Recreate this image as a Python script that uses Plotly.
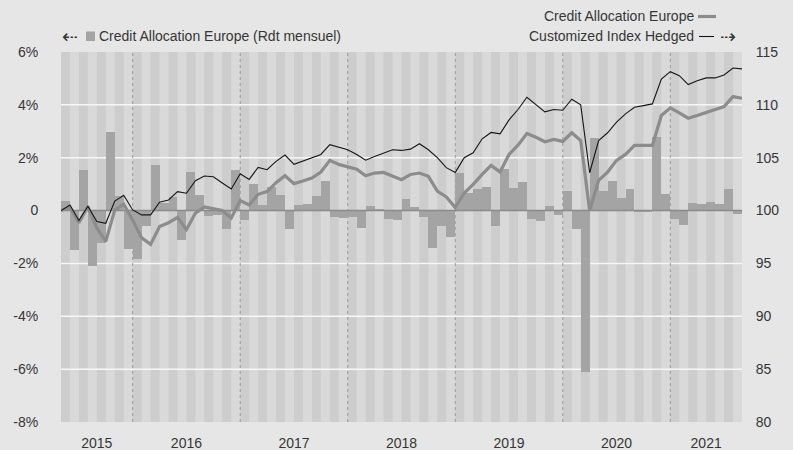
import plotly.graph_objects as go
import pandas as pd

# ---------------- data ----------------
months = [d.strftime("%Y-%m") for d in pd.date_range("2015-05-01", "2021-08-01", freq="MS")]

monthly_returns = [
    0.38, -1.51, 1.55, -2.10, -1.23, 2.98, 0.55, -1.45, -1.82, -0.57,
    1.74, 0.29, 0.53, -1.10, 1.47, 0.60, -0.21, -0.15, -0.70, 1.55,
    -0.36, 0.99, 0.20, 0.89, 0.58, -0.68, 0.20, 0.24, 0.54, 1.12,
    -0.24, -0.28, -0.24, -0.65, 0.16, 0.05, -0.30, -0.34, 0.45,
    0.13, -0.24, -1.41, -0.58, -0.99, 1.41, 0.67, 0.81, 0.88, -0.58,
    1.56, 0.84, 1.07, -0.33, -0.39, 0.16, -0.15, 0.73, -0.68,
    -6.10, 2.74, 0.73, 1.11, 0.49, 0.81, -0.04, -0.03, 2.78, 0.62,
    -0.33, -0.55, 0.28, 0.24, 0.31, 0.24, 0.81, -0.13,
]

# index values at month boundaries (start value + end of each month)
fund_index = [
    100.0, 100.3, 98.85, 100.4, 98.35, 97.1, 100.05, 100.6, 99.1, 97.42,
    96.8, 98.5, 98.85, 99.35, 98.2, 99.75, 100.35, 100.15, 100.0, 99.3,
    100.95, 100.53, 101.54, 101.8, 102.64, 103.3, 102.55, 102.8, 103.08, 103.64,
    104.75, 104.37, 104.11, 103.92, 103.3, 103.55, 103.61, 103.3, 102.92,
    103.42, 103.55, 103.24, 101.85, 101.28, 100.28, 101.66, 102.48, 103.42, 104.27,
    103.64, 105.31, 106.19, 107.29, 106.94, 106.51, 106.73, 106.54, 107.36,
    106.63, 100.0, 102.86, 103.64, 104.75, 105.31, 106.16, 106.16, 106.16, 108.99,
    109.72, 109.25, 108.74, 108.99, 109.25, 109.56, 109.84, 110.78, 110.62,
]

bench_index = [
    100.0, 100.53, 99.06, 100.41, 98.96, 98.8, 100.9, 101.45, 100.06, 99.59,
    99.59, 100.79, 101.0, 101.79, 101.64, 102.83, 103.27, 103.2, 102.61, 102.04,
    103.49, 102.95, 104.08, 103.87, 104.65, 105.25, 104.37, 104.68, 105.06, 105.31,
    106.23, 106.0, 105.75, 105.31, 104.77, 105.12, 105.43, 105.75, 105.69,
    105.81, 106.32, 105.75, 105.0, 104.06, 103.61, 105.0, 105.47, 106.79, 107.39,
    107.26, 108.58, 109.56, 110.72, 110.03, 109.34, 109.56, 109.49, 110.53,
    110.0, 103.58, 106.63, 107.36, 108.36, 109.15, 109.77, 109.93, 110.09, 112.45,
    113.14, 112.76, 111.92, 112.29, 112.55, 112.55, 112.83, 113.49, 113.4,
]

name_bars = "Credit Allocation Europe (Rdt mensuel)"
name_fund = "Credit Allocation Europe"
name_bench = "Customized Index Hedged"

left_ticks = [-8, -6, -4, -2, 0, 2, 4, 6]
left_tick_text = ["-8%", "-6%", "-4%", "-2%", "0", "2%", "4%", "6%"]
right_ticks = [80, 85, 90, 95, 100, 105, 110, 115]

# ---------------- styling ----------------
BG = "#e6e6e6"
STRIPE_LIGHT = "#d9d9d9"
STRIPE_DARK = "#cdcdcd"
BAR = "#a4a4a4"
FUND = "#8c8c8c"
BENCH = "#161616"
TXT = "#363636"
FONT = "Liberation Sans, Arial, sans-serif"

n = len(months)
bar_x = [i + 0.5 for i in range(n)]
line_x = list(range(n + 1))

years = [m[:4] for m in months]
year_labels = sorted(set(years))
year_centers = []
for y in year_labels:
    idx = [i for i, v in enumerate(years) if v == y]
    year_centers.append((idx[0] + idx[-1] + 1) / 2)
year_starts = [i for i, m in enumerate(months) if m.endswith("-01")]

fig = go.Figure()
fig.add_trace(go.Bar(x=bar_x, y=monthly_returns, width=1, marker_color=BAR,
                     marker_line_width=0, name=name_bars, yaxis="y"))
fig.add_trace(go.Scatter(x=[0, n], y=[0, 0], mode="lines",
                         line=dict(color="#8a8a8a", width=1.5),
                         hoverinfo="skip", yaxis="y", showlegend=False))
fig.add_trace(go.Scatter(x=line_x, y=fund_index, mode="lines", name=name_fund,
                         line=dict(color=FUND, width=3.2), yaxis="y2"))
fig.add_trace(go.Scatter(x=line_x, y=bench_index, mode="lines", name=name_bench,
                         line=dict(color=BENCH, width=1.1), yaxis="y2"))

shapes = []
for i in range(0, n, 2):
    shapes.append(dict(type="rect", xref="x", yref="paper", x0=i, x1=i + 1, y0=0, y1=1,
                       fillcolor=STRIPE_DARK, line_width=0, layer="below"))
for v in left_ticks[1:-1]:
    if v != 0:
        shapes.append(dict(type="line", xref="paper", yref="y", x0=0, x1=1, y0=v, y1=v,
                           line=dict(color="#f7f7f7", width=1.5), layer="below"))
for s in year_starts:
    shapes.append(dict(type="line", xref="x", yref="paper", x0=s, x1=s, y0=0, y1=1,
                       line=dict(color="#9a9a9a", width=1, dash="3px,3px"), layer="below"))

# legend drawn in pixel terms relative to the plot area
L, R, T, B = 61, 742, 52, 422
W, H = R - L, B - T


def px(x):
    return (x - L) / W


def py(y):
    return (B - y) / H


shapes += [
    dict(type="rect", xref="paper", yref="paper", x0=px(86), x1=px(95), y0=py(41), y1=py(31.5),
         fillcolor=BAR, line_width=0),
    dict(type="line", xref="paper", yref="paper", x0=px(698), x1=px(716), y0=py(16.5), y1=py(16.5),
         line=dict(color=FUND, width=3.2)),
    dict(type="line", xref="paper", yref="paper", x0=px(699), x1=px(714), y0=py(36.5), y1=py(36.5),
         line=dict(color=BENCH, width=1.1)),
]

annotations = [
    dict(text="⇠", x=px(60), y=py(36), xref="paper", yref="paper", xanchor="left", yanchor="middle",
         showarrow=False, font=dict(family="DejaVu Sans", size=19, color=TXT)),
    dict(text=name_bars, x=px(96.5), y=py(36), xref="paper", yref="paper", xanchor="left",
         yanchor="middle", showarrow=False, font=dict(family=FONT, size=14, color=TXT)),
    dict(text=name_fund, x=px(696), y=py(16), xref="paper", yref="paper", xanchor="right",
         yanchor="middle", showarrow=False, font=dict(family=FONT, size=14, color=TXT)),
    dict(text=name_bench, x=px(696), y=py(36), xref="paper", yref="paper", xanchor="right",
         yanchor="middle", showarrow=False, font=dict(family=FONT, size=14, color=TXT)),
    dict(text="⇢", x=px(718), y=py(36), xref="paper", yref="paper", xanchor="left", yanchor="middle",
         showarrow=False, font=dict(family="DejaVu Sans", size=19, color=TXT)),
]

fig.update_layout(
    width=793, height=450,
    margin=dict(l=L, r=793 - R, t=T, b=450 - B),
    paper_bgcolor=BG, plot_bgcolor=STRIPE_LIGHT,
    font=dict(family=FONT, size=14, color=TXT),
    showlegend=False, bargap=0,
    shapes=shapes, annotations=annotations,
    xaxis=dict(range=[0, n], tickvals=year_centers, ticktext=year_labels,
               showgrid=False, zeroline=False, showline=False,
               ticks="outside", ticklen=8, tickcolor="rgba(0,0,0,0)", automargin=False),
    yaxis=dict(range=[-8, 6], tickvals=left_ticks, ticktext=left_tick_text,
               showgrid=False, zeroline=False,
               ticks="outside", ticklen=19, tickcolor="rgba(0,0,0,0)", automargin=False),
    yaxis2=dict(range=[80, 115], tickvals=right_ticks, overlaying="y", side="right",
                showgrid=False, zeroline=False,
                ticks="outside", ticklen=10, tickcolor="rgba(0,0,0,0)", automargin=False),
)

fig.write_html(
    "out.html",
    config={"displayModeBar": False},
    post_script="document.body.style.margin='0px';document.body.style.background='#e6e6e6';",
)
